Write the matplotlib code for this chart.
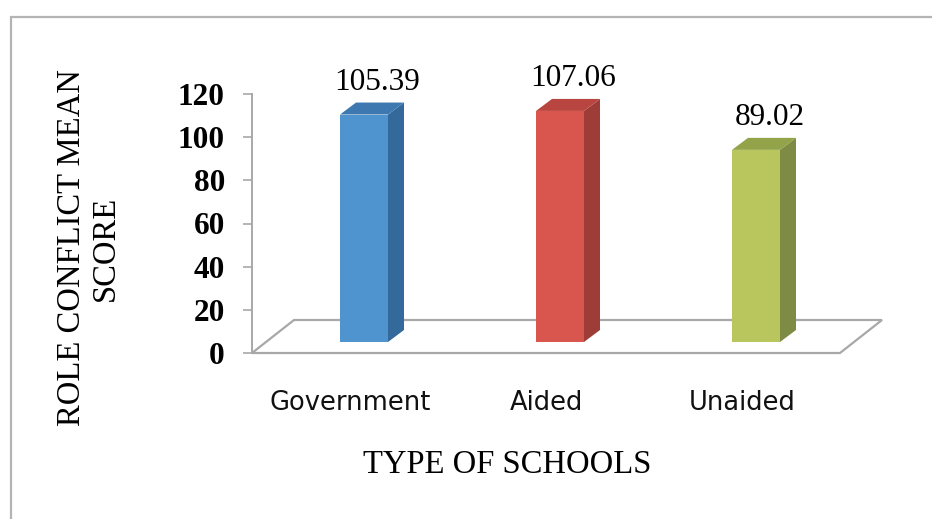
import matplotlib.pyplot as plt
from matplotlib.patches import Polygon, Rectangle

# данные диаграммы
schools = ["Government", "Aided", "Unaided"]
scores = [105.39, 107.06, 89.02]
front_colors = ["#4F94CE", "#D9564F", "#B9C65E"]
side_colors = ["#33699B", "#9E3C38", "#7D8B45"]
top_colors = ["#3D79B0", "#B8453F", "#93A34A"]

W, H = 932, 519
fig = plt.figure(figsize=(W / 100, H / 100), dpi=100)

# рамка вокруг диаграммы
fig.patches.append(Rectangle((11 / W, -0.1), 1.2, 1.1 - 17 / H, transform=fig.transFigure,
                             fill=False, edgecolor="#b4b4b4", linewidth=1.6))

ax = fig.add_axes([252 / W, (H - 353) / H, (840 - 252) / W, (353 - 94) / H])
ax.set_xlim(-0.5, 2.5)
ax.set_ylim(0, 120)

px_x = 3 / (840 - 252)      # ширина одного пикселя в единицах оси x
px_y = 120 / (353 - 94)     # высота одного пикселя в единицах оси y

# "пол" 3D-диаграммы
fdx, fdy = 42 * px_x, 33 * px_y
floor = Polygon([(-0.5, 0), (-0.5 + fdx, fdy), (2.5 + fdx, fdy), (2.5, 0)],
                closed=True, facecolor="white", edgecolor="#a8a8a8", linewidth=1.6,
                clip_on=False, zorder=1)
ax.add_patch(floor)

# объёмные столбики: передняя грань, боковая грань и верх
bw = 48 * px_x
bdx, bdy = 14 * px_x, 11 * px_y
sdx, sdy = 16 * px_x, 12 * px_y
for i, v in enumerate(scores):
    x0 = i + bdx - bw / 2
    x1 = x0 + bw
    y0, y1 = bdy, bdy + v
    ax.add_patch(Polygon([(x0, y0), (x1, y0), (x1, y1), (x0, y1)],
                         facecolor=front_colors[i], edgecolor="none", clip_on=False, zorder=3))
    ax.add_patch(Polygon([(x1, y0), (x1 + sdx, y0 + sdy), (x1 + sdx, y1 + sdy), (x1, y1)],
                         facecolor=side_colors[i], edgecolor="none", clip_on=False, zorder=3))
    ax.add_patch(Polygon([(x0, y1), (x1, y1), (x1 + sdx, y1 + sdy), (x0 + sdx, y1 + sdy)],
                         facecolor=top_colors[i], edgecolor="none", clip_on=False, zorder=3))
    ax.annotate(f"{v:.2f}", xy=(x0 + (bw + sdx) / 2, y1 + sdy), xytext=(4, 4),
                textcoords="offset points", ha="center", va="bottom",
                family="Liberation Serif", fontsize=22.5, annotation_clip=False)

# оси
for s in ["top", "right", "bottom"]:
    ax.spines[s].set_visible(False)
ax.spines["left"].set_color("#a8a8a8")
ax.spines["left"].set_linewidth(1.4)
ax.set_yticks(range(0, 121, 20))
ax.tick_params(axis="y", colors="#a8a8a8", length=6.5, width=1.2, pad=13, labelcolor="black")
for lab in ax.get_yticklabels():
    lab.set_family("Liberation Serif")
    lab.set_fontweight("bold")
    lab.set_fontsize(22.5)

ax.set_xticks(range(len(schools)))
ax.set_xticklabels(schools, fontsize=18.5, family="DejaVu Sans", color="#111111")
ax.tick_params(axis="x", length=0, pad=27)
ax.patch.set_alpha(0)

fig.text(507 / W, 1 - 465 / H, "TYPE OF SCHOOLS", ha="center", va="center",
         family="Liberation Serif", fontsize=23.5)
fig.text(89 / W, 1 - 248 / H, "ROLE CONFLICT MEAN\nSCORE", ha="center", va="center",
         rotation=90, multialignment="center", family="Liberation Serif", fontsize=23.5,
         linespacing=1.15)

plt.savefig("out.png", dpi=100)
